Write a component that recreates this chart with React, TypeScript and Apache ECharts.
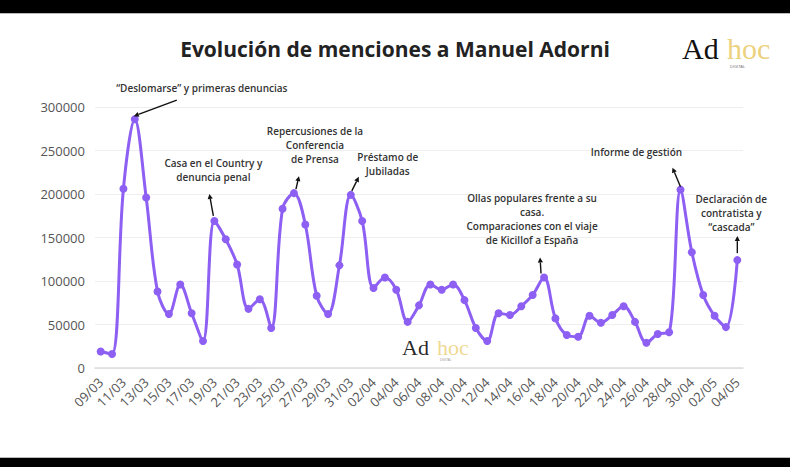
import React, { useEffect, useRef } from "react";
import * as echarts from "echarts";

const dates = [
  "09/03", "10/03", "11/03", "12/03", "13/03", "14/03", "15/03", "16/03", "17/03", "18/03",
  "19/03", "20/03", "21/03", "22/03", "23/03", "24/03", "25/03", "26/03", "27/03", "28/03",
  "29/03", "30/03", "31/03", "01/04", "02/04", "03/04", "04/04", "05/04", "06/04", "07/04",
  "08/04", "09/04", "10/04", "11/04", "12/04", "13/04", "14/04", "15/04", "16/04", "17/04",
  "18/04", "19/04", "20/04", "21/04", "22/04", "23/04", "24/04", "25/04", "26/04", "27/04",
  "28/04", "29/04", "30/04", "01/05", "02/05", "03/05", "04/05",
];

const mentions = [
  19000, 16000, 206000, 286000, 196000, 88000, 62000, 96000, 63000, 31000,
  169000, 148000, 119000, 68000, 79000, 46000, 183000, 201000, 165000, 83000,
  62000, 118000, 199000, 169000, 92000, 104000, 90000, 53000, 72000, 96000,
  90000, 96000, 78000, 46000, 31000, 63000, 61000, 71000, 84000, 104000,
  57000, 38000, 36000, 60000, 52000, 61000, 71000, 53000, 29000, 39000,
  41000, 205000, 133000, 84000, 60000, 47000, 124000,
];

const titleText = "Evolución de menciones a Manuel Adorni";

const annotationDates = ["12/03", "19/03", "26/03", "31/03", "17/04", "29/04", "04/05"];
const annotationTexts = [
  "“Deslomarse” y primeras denuncias",
  "Casa en el Country y\ndenuncia penal",
  "Repercusiones de la\nConferencia\nde Prensa",
  "Préstamo de\nJubiladas",
  "Ollas populares frente a su\ncasa.\nComparaciones con el viaje\nde Kicillof a España",
  "Informe de gestión",
  "Declaración de\ncontratista y\n“cascada”",
];
// layout offsets (pixels relative to the data point): text centre, arrow tail, arrow head
const annotationLayout = [
  { tx: 67, ty: -31, ax: 42, ay: -19, hx: -1, hy: -3 },
  { tx: -1, ty: -58, ax: -1, ay: -5, hx: -5, hy: -27 },
  { tx: 21, ty: -62, ax: 2, ay: -4, hx: 5, hy: -17 },
  { tx: 37, ty: -38, ax: 1, ay: -4, hx: 8, hy: -18 },
  { tx: -12, ty: -80, ax: -3, ay: -4, hx: -4, hy: -20 },
  { tx: -44, ty: -38, ax: 0, ay: -3, hx: -8, hy: -22 },
  { tx: -6, ty: -61, ax: 0, ay: -7, hx: 0, hy: -24 },
];

const PURPLE = "#8d5ff2";
const FONT = "'Open Sans', 'Noto Sans', sans-serif";

export default function App() {
  const ref = useRef<HTMLDivElement>(null);

  useEffect(() => {
    document.body.style.margin = "0";
    const chart = echarts.init(ref.current!, null, { renderer: "svg" });
    chart.setOption({
      animation: false,
      backgroundColor: "#ffffff",
      title: {
        text: titleText,
        left: "center",
        top: 33,
        textStyle: { fontFamily: FONT, fontSize: 21, fontWeight: 700, color: "#222" },
      },
      grid: { left: 95, right: 47, top: 107, bottom: 99, containLabel: false },
      xAxis: {
        type: "category",
        data: dates,
        boundaryGap: true,
        axisLine: { show: true, lineStyle: { color: "#dcdcdc", width: 1.5 } },
        axisTick: { show: false },
        axisLabel: {
          interval: 1,
          rotate: 45,
          fontFamily: FONT,
          fontSize: 13,
          color: "#555555",
          margin: 12,
        },
      },
      yAxis: {
        type: "value",
        min: 0,
        max: 300000,
        interval: 50000,
        axisLine: { show: false },
        axisTick: { show: false },
        splitLine: { lineStyle: { color: "#eeeeee", width: 1 } },
        axisLabel: {
          fontFamily: FONT,
          fontSize: 13,
          color: "#555555",
          margin: 10,
          formatter: (v: number) => String(v),
        },
      },
      series: [
        {
          type: "line",
          data: mentions,
          smooth: 0.35,
          symbol: "circle",
          symbolSize: 8,
          showAllSymbol: true,
          lineStyle: { color: PURPLE, width: 3 },
          itemStyle: { color: PURPLE },
        },
      ],
    });

    const graphics: any[] = [
      { type: "rect", shape: { x: 0, y: 0, width: 790, height: 13 }, style: { fill: "#000" }, z: 100 },
      { type: "rect", shape: { x: 0, y: 13, width: 790, height: 1 }, style: { fill: "#bbb" }, z: 100 },
      { type: "rect", shape: { x: 0, y: 458, width: 790, height: 9 }, style: { fill: "#000" }, z: 100 },
      { type: "rect", shape: { x: 0, y: 457, width: 790, height: 1 }, style: { fill: "#bbb" }, z: 100 },
      // logo top right
      { type: "text", x: 682, y: 48, style: { text: "Ad", font: "30px 'Liberation Serif', serif", fill: "#111", verticalAlign: "middle" } },
      { type: "text", x: 727, y: 48, style: { text: "hoc", font: "30px 'Liberation Serif', serif", fill: "#ecd27f", verticalAlign: "middle" } },
      { type: "text", x: 730, y: 66, style: { text: "DIGITAL", font: "4px sans-serif", fill: "#777", verticalAlign: "middle" } },
      // watermark
      { type: "text", x: 402, y: 347, style: { text: "Ad", font: "22px 'Liberation Serif', serif", fill: "rgba(0,0,0,0.85)", verticalAlign: "middle" } },
      { type: "text", x: 437, y: 347, style: { text: "hoc", font: "22px 'Liberation Serif', serif", fill: "rgba(236,210,127,0.85)", verticalAlign: "middle" } },
      { type: "text", x: 440, y: 360, style: { text: "DIGITAL", font: "3px sans-serif", fill: "#999", verticalAlign: "middle" } },
    ];

    annotationDates.forEach((d, i) => {
      const idx = dates.indexOf(d);
      const p = chart.convertToPixel({ xAxisIndex: 0, yAxisIndex: 0 }, [idx, mentions[idx]]) as number[];
      const L = annotationLayout[i];
      graphics.push({
        type: "text",
        x: p[0] + L.tx,
        y: p[1] + L.ty - 7,
        z: 50,
        style: {
          text: annotationTexts[i],
          font: `600 10px ${FONT}`,
          fill: "#333",
          align: "center",
          verticalAlign: "top",
          lineHeight: 14,
        },
      });
      const x1 = p[0] + L.ax, y1 = p[1] + L.ay, x2 = p[0] + L.hx, y2 = p[1] + L.hy;
      const dx = x2 - x1, dy = y2 - y1;
      const len = Math.sqrt(dx * dx + dy * dy) || 1;
      const ux = dx / len, uy = dy / len;
      const hl = 5, hw = 2.6;
      const bx = x2 - ux * hl, by = y2 - uy * hl;
      graphics.push({
        type: "line",
        z: 50,
        shape: { x1, y1, x2: bx, y2: by },
        style: { stroke: "#111", lineWidth: 1.4 },
      });
      graphics.push({
        type: "polygon",
        z: 50,
        shape: {
          points: [
            [x2, y2],
            [bx - uy * hw, by + ux * hw],
            [bx + uy * hw, by - ux * hw],
          ],
        },
        style: { fill: "#111" },
      });
    });

    chart.setOption({ graphic: graphics });

    return () => chart.dispose();
  }, []);

  return <div ref={ref} style={{ width: 790, height: 467 }} />;
}
